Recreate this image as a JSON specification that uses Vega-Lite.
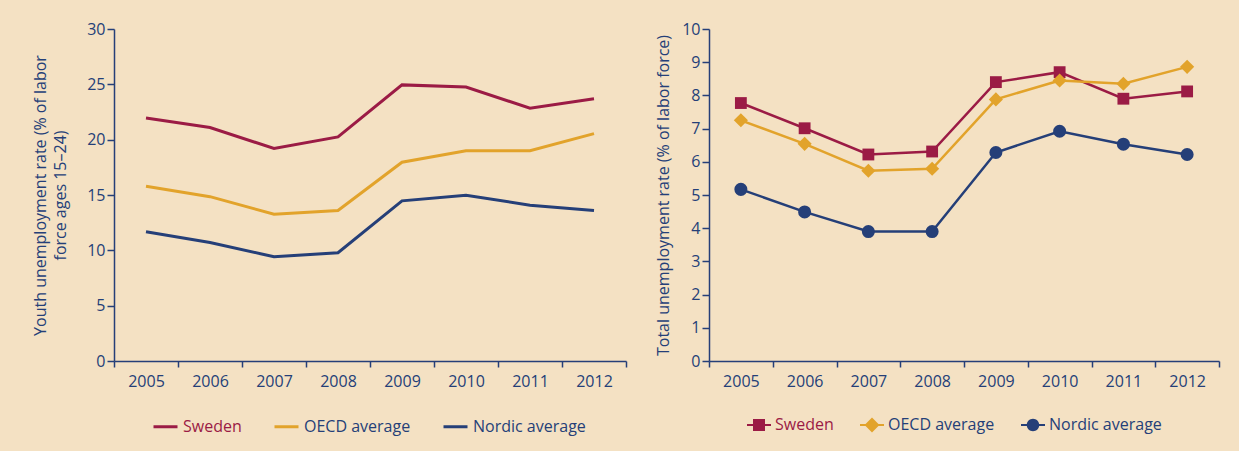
{
  "$schema": "https://vega.github.io/schema/vega-lite/v6.json",
  "background": "#f4e1c3",
  "padding": {"left": 32, "top": 21, "right": 19, "bottom": 16},
  "spacing": 28,
  "config": {
    "view": {"stroke": null},
    "font": "Open Sans",
    "axis": {
      "grid": false,
      "domainColor": "#253f78",
      "tickColor": "#253f78",
      "labelColor": "#253f78",
      "titleColor": "#253f78",
      "domainWidth": 1.5,
      "tickWidth": 1.5,
      "labelFontSize": 16,
      "titleFontSize": 16,
      "titleFontWeight": "normal",
      "labelPadding": 2
    },
    "legend": {
      "labelFontSize": 16,
      "labelColor": "#253f78",
      "labelFont": "Open Sans"
    }
  },
  "datasets": {
    "youth": [
      {"year": "2005", "series": "Sweden", "rate": 21.95},
      {"year": "2006", "series": "Sweden", "rate": 21.1},
      {"year": "2007", "series": "Sweden", "rate": 19.2},
      {"year": "2008", "series": "Sweden", "rate": 20.25},
      {"year": "2009", "series": "Sweden", "rate": 24.95},
      {"year": "2010", "series": "Sweden", "rate": 24.75},
      {"year": "2011", "series": "Sweden", "rate": 22.85},
      {"year": "2012", "series": "Sweden", "rate": 23.7},
      {"year": "2005", "series": "OECD average", "rate": 15.8},
      {"year": "2006", "series": "OECD average", "rate": 14.85},
      {"year": "2007", "series": "OECD average", "rate": 13.27},
      {"year": "2008", "series": "OECD average", "rate": 13.6},
      {"year": "2009", "series": "OECD average", "rate": 17.96},
      {"year": "2010", "series": "OECD average", "rate": 19.0},
      {"year": "2011", "series": "OECD average", "rate": 19.0},
      {"year": "2012", "series": "OECD average", "rate": 20.55},
      {"year": "2005", "series": "Nordic average", "rate": 11.68},
      {"year": "2006", "series": "Nordic average", "rate": 10.7},
      {"year": "2007", "series": "Nordic average", "rate": 9.42},
      {"year": "2008", "series": "Nordic average", "rate": 9.78},
      {"year": "2009", "series": "Nordic average", "rate": 14.47},
      {"year": "2010", "series": "Nordic average", "rate": 14.98},
      {"year": "2011", "series": "Nordic average", "rate": 14.08},
      {"year": "2012", "series": "Nordic average", "rate": 13.6}
    ],
    "total": [
      {"year": "2005", "series": "Sweden", "rate": 7.77},
      {"year": "2006", "series": "Sweden", "rate": 7.01},
      {"year": "2007", "series": "Sweden", "rate": 6.22},
      {"year": "2008", "series": "Sweden", "rate": 6.31},
      {"year": "2009", "series": "Sweden", "rate": 8.4},
      {"year": "2010", "series": "Sweden", "rate": 8.7},
      {"year": "2011", "series": "Sweden", "rate": 7.9},
      {"year": "2012", "series": "Sweden", "rate": 8.12},
      {"year": "2005", "series": "OECD average", "rate": 7.25},
      {"year": "2006", "series": "OECD average", "rate": 6.54},
      {"year": "2007", "series": "OECD average", "rate": 5.73},
      {"year": "2008", "series": "OECD average", "rate": 5.79},
      {"year": "2009", "series": "OECD average", "rate": 7.88},
      {"year": "2010", "series": "OECD average", "rate": 8.45},
      {"year": "2011", "series": "OECD average", "rate": 8.35},
      {"year": "2012", "series": "OECD average", "rate": 8.86},
      {"year": "2005", "series": "Nordic average", "rate": 5.17},
      {"year": "2006", "series": "Nordic average", "rate": 4.49},
      {"year": "2007", "series": "Nordic average", "rate": 3.9},
      {"year": "2008", "series": "Nordic average", "rate": 3.9},
      {"year": "2009", "series": "Nordic average", "rate": 6.28},
      {"year": "2010", "series": "Nordic average", "rate": 6.92},
      {"year": "2011", "series": "Nordic average", "rate": 6.53},
      {"year": "2012", "series": "Nordic average", "rate": 6.22}
    ]
  },
  "hconcat": [
    {
      "width": 512,
      "height": 332,
      "data": {"name": "youth"},
      "mark": {"type": "line", "strokeWidth": 3},
      "encoding": {
        "x": {
          "field": "year", "type": "ordinal", "bandPosition": 0.5,
          "scale": {"type": "band", "paddingInner": 0, "paddingOuter": 0},
          "axis": {"title": null, "labelAngle": 0, "tickBand": "extent", "tickSize": 6, "labelPadding": 6}
        },
        "y": {
          "field": "rate", "type": "quantitative",
          "scale": {"domain": [0, 30]},
          "axis": {
            "values": [0, 5, 10, 15, 20, 25, 30],
            "tickSize": 7,
            "title": ["Youth unemployment  rate  (% of labor", "force ages 15–24)"],
            "titleLineHeight": 20,
            "titlePadding": 18
          }
        },
        "color": {
          "field": "series", "type": "nominal",
          "scale": {"domain": ["Sweden", "OECD average", "Nordic average"], "range": ["#9b1b45", "#e2a32b", "#253f78"]},
          "legend": {
            "orient": "none", "legendX": 38, "legendY": 384,
            "direction": "horizontal", "title": null,
            "symbolType": "stroke", "symbolSize": 576, "symbolStrokeWidth": 3,
            "labelOffset": 4, "columnPadding": 26,
            "encode": {"labels": {"update": {"fill": {"signal": "datum.value === 'Sweden' ? '#9b1b45' : '#253f78'"}}}}
          }
        }
      }
    },
    {
      "width": 510,
      "height": 332,
      "data": {"name": "total"},
      "encoding": {
        "x": {
          "field": "year", "type": "ordinal", "bandPosition": 0.5,
          "scale": {"type": "band", "paddingInner": 0, "paddingOuter": 0},
          "axis": {"title": null, "labelAngle": 0, "tickBand": "extent", "tickSize": 6, "labelPadding": 6}
        },
        "y": {
          "field": "rate", "type": "quantitative",
          "scale": {"domain": [0, 10]},
          "axis": {
            "values": [0, 1, 2, 3, 4, 5, 6, 7, 8, 9, 10],
            "tickSize": 7,
            "title": "Total unemployment rate (% of labor force)",
            "titlePadding": 10
          }
        },
        "color": {
          "field": "series", "type": "nominal",
          "scale": {"domain": ["Sweden", "OECD average", "Nordic average"], "range": ["#9b1b45", "#e2a32b", "#253f78"]},
          "legend": {
            "orient": "none", "legendX": 38, "legendY": 384,
            "direction": "horizontal", "title": null,
            "symbolSize": 576,
            "labelOffset": 4, "columnPadding": 26,
            "encode": {
              "symbols": {"update": {
                "shape": {"signal": "datum.value === 'Sweden' ? 'M-1,-0.09H1V0.09H-1Z M-0.5,-0.5H0.5V0.5H-0.5Z' : datum.value === 'OECD average' ? 'M-1,-0.09H1V0.09H-1Z M0,-0.62L0.62,0L0,0.62L-0.62,0Z' : 'M-1,-0.09H1V0.09H-1Z M0.52,0A0.52,0.52 0 1,1 -0.52,0A0.52,0.52 0 1,1 0.52,0Z'"},
                "fill": {"signal": "datum.value === 'Sweden' ? '#9b1b45' : datum.value === 'OECD average' ? '#e2a32b' : '#253f78'"},
                "fillOpacity": {"value": 1},
                "strokeWidth": {"value": 0},
                "size": {"value": 576}
              }},
              "labels": {"update": {"fill": {"signal": "datum.value === 'Sweden' ? '#9b1b45' : '#253f78'"}}}
            }
          }
        }
      },
      "layer": [
        {"mark": {"type": "line", "strokeWidth": 2.5}},
        {
          "transform": [{"filter": "datum.series === 'Sweden'"}],
          "mark": {"type": "point", "filled": true, "opacity": 1, "shape": "square", "size": 140}
        },
        {
          "transform": [{"filter": "datum.series === 'OECD average'"}],
          "mark": {"type": "point", "filled": true, "opacity": 1, "shape": "diamond", "size": 200}
        },
        {
          "transform": [{"filter": "datum.series === 'Nordic average'"}],
          "mark": {"type": "point", "filled": true, "opacity": 1, "shape": "circle", "size": 170}
        }
      ]
    }
  ],
  "resolve": {"scale": {"color": "independent", "y": "independent", "x": "independent"}, "legend": {"color": "independent"}}
}
